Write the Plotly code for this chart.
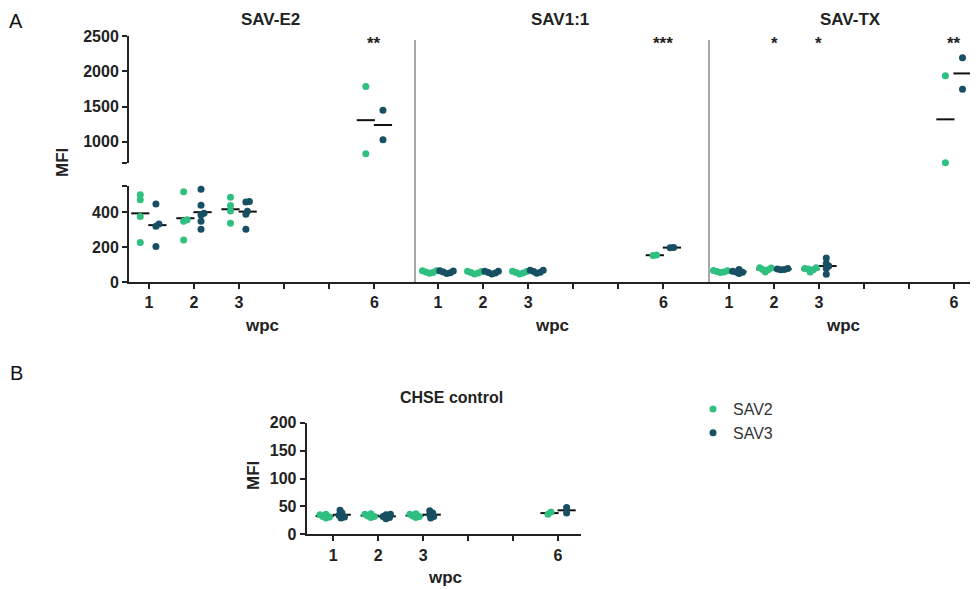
import plotly.graph_objects as go

W, H = 978, 589
OFF = 8                     # browser body margin compensation
FW, FH = W - OFF, H - OFF   # figure size

# ---------------- data ----------------
wpc = [1, 2, 3, 6]
x_tickvals = [1, 2, 3, 4, 5, 6]
x_ticktext = ['1', '2', '3', '', '', '6']
series_names = ['SAV2', 'SAV3']
panel_titles = ['SAV-E2', 'SAV1:1', 'SAV-TX']

# SAV-E2
e2_sav2 = [[471, 500, 375, 227], [517, 356, 348, 240], [486, 438, 407, 336], [1784, 830]]
e2_sav3 = [[447, 332, 320, 204], [532, 440, 394, 384, 348, 302], [459, 461, 406, 388, 302], [1449, 1028]]
# SAV1:1
s11_sav2 = [[50, 58, 64, 65, 55], [46, 54, 60, 61, 52], [46, 54, 60, 61, 52], [152, 155]]
s11_sav3 = [[48, 57, 63, 64, 53], [46, 55, 61, 62, 51], [50, 60, 67, 68, 56], [196, 198]]
# SAV-TX
tx_sav2 = [[54, 60, 66, 64, 58], [58, 70, 80, 82, 72], [58, 70, 78, 82, 74], [1935, 703]]
tx_sav3 = [[48, 56, 62, 72, 58], [70, 72, 75, 77], [138, 106, 92, 77, 44], [2193, 1746]]
# CHSE control
chse_sav2 = [[29, 32, 35, 36, 31], [30, 33, 36, 37, 32], [30, 33, 36, 37, 32], [36, 40]]
chse_sav3 = [[29, 31, 34, 38, 43], [28, 32, 35, 36, 30], [29, 32, 35, 38, 42], [38, 48]]

# significance marks
sig_e2 = ['', '', '', '**']
sig_s11 = ['', '', '', '***']
sig_tx = ['', '*', '*', '**']

# ---------------- style ----------------
COL = {'SAV2': '#2fbf80', 'SAV3': '#174f63'}
FONT = 'Liberation Sans, Arial, sans-serif'
INK = '#222222'
LOW_MAX, UP_MIN = 550, 700
PPU_X = 45.1
PPU = {'y': 96 / 550, 'y2': 127 / 1800, 'y3': 111.7 / 200}
SIDE = {'SAV2': -0.19, 'SAV3': 0.19}


def X(px):
    return (px - OFF) / FW


def Y(py):
    return 1 - (py - OFF) / FH


def swarm(vals, ppu_y, diam=3.4):
    placed, offs = [], [0.0] * len(vals)
    for i in sorted(range(len(vals)), key=lambda k: vals[k]):
        yv = vals[i] * ppu_y
        cand = 0.0
        for k in range(80):
            cand = 0.0 if k == 0 else ((k + 1) // 2) * (1 if k % 2 else -1) * 0.5
            if all((cand - a) ** 2 + (yv - b) ** 2 >= diam ** 2 for a, b in placed):
                break
        placed.append((cand, yv))
        offs[i] = cand
    if placed:
        c = (max(p[0] for p in placed) + min(p[0] for p in placed)) / 2
        offs = [o - c for o in offs]
    return [o / PPU_X for o in offs]


fig = go.Figure()
acc = {}
means = {}


def add(xa, groups, name, split=True, ya_low='y'):
    for w, vals in zip(wpc, groups):
        segs = {}
        for v in vals:
            ya = ya_low if (not split or v <= LOW_MAX) else 'y2'
            segs.setdefault(ya, []).append(v)
        for ya, vs in segs.items():
            offs = swarm(vs, PPU[ya])
            key = (xa, ya, name)
            acc.setdefault(key, ([], []))
            for v, o in zip(vs, offs):
                acc[key][0].append(w + SIDE[name] + o)
                acc[key][1].append(v)
        m = sum(vals) / len(vals)
        ya = ya_low if (not split or m <= LOW_MAX) else 'y2'
        means.setdefault((xa, ya), ([], []))
        means[(xa, ya)][0].append(w + SIDE[name])
        means[(xa, ya)][1].append(m)


add('x', e2_sav2, 'SAV2'); add('x', e2_sav3, 'SAV3')
add('x2', s11_sav2, 'SAV2'); add('x2', s11_sav3, 'SAV3')
add('x3', tx_sav2, 'SAV2'); add('x3', tx_sav3, 'SAV3')
add('x4', chse_sav2, 'SAV2', split=False, ya_low='y3')
add('x4', chse_sav3, 'SAV3', split=False, ya_low='y3')

# mean lines first (behind the dots)
for (xa, ya), (xs, ys) in means.items():
    fig.add_trace(go.Scatter(
        x=xs, y=ys, xaxis=xa, yaxis=ya, mode='markers', showlegend=False,
        marker=dict(symbol='line-ew', size=13, line=dict(width=2, color='#111111')),
        cliponaxis=False, hoverinfo='y'))

shown = set()
for (xa, ya, name), (xs, ys) in acc.items():
    fig.add_trace(go.Scatter(
        x=xs, y=ys, xaxis=xa, yaxis=ya, mode='markers', name=name,
        showlegend=name not in shown,
        marker=dict(color=COL[name], size=7, line=dict(width=0)),
        cliponaxis=False, hoverinfo='x+y'))
    shown.add(name)

axis_common = dict(showgrid=False, zeroline=False, showline=True, linecolor=INK,
                   linewidth=2, ticks='outside', ticklen=5, tickwidth=2, tickcolor=INK,
                   tickfont=dict(family=FONT, size=16, color=INK, weight='bold'),
                   fixedrange=True, automargin=False)
xcommon = dict(axis_common, tickvals=x_tickvals, ticktext=x_ticktext)

fig.update_layout(
    width=FW, height=FH, margin=dict(l=0, r=0, t=0, b=0, pad=0),
    paper_bgcolor='white', plot_bgcolor='white',
    xaxis=dict(xcommon, domain=[X(129), X(415)], range=[0.56, 6.9], anchor='y'),
    xaxis2=dict(xcommon, domain=[X(415), X(708)], range=[0.49, 6.99], anchor='y'),
    xaxis3=dict(xcommon, domain=[X(708), X(976)], range=[0.533, 6.49], anchor='y'),
    xaxis4=dict(xcommon, domain=[X(306.7), X(581)], range=[0.41, 6.51], anchor='y3'),
    yaxis=dict(axis_common, domain=[Y(282), Y(186)], range=[0, LOW_MAX], anchor='x',
               tickvals=[0, 200, 400, 550], ticktext=['0', '200', '400', '']),
    yaxis2=dict(axis_common, domain=[Y(163), Y(36)], range=[UP_MIN, 2500], anchor='x',
                tickvals=[700, 1000, 1500, 2000, 2500], ticktext=['', '1000', '1500', '2000', '2500']),
    yaxis3=dict(axis_common, domain=[Y(534.3), Y(422.7)], range=[0, 200], anchor='x4',
                tickvals=[0, 50, 100, 150, 200]),
    legend=dict(x=X(693), y=Y(392), xanchor='left', yanchor='top', tracegroupgap=0,
                font=dict(family=FONT, size=16, color='#333333'),
                bgcolor='rgba(0,0,0,0)'),
    showlegend=True,
)

# divider lines between panel A subplots
for px in (415, 709):
    fig.add_shape(type='line', xref='paper', yref='paper', x0=X(px), x1=X(px),
                  y0=Y(282), y1=Y(40), line=dict(color='#a8a8a8', width=2))

ann = []


def text(px, py, s, size=16, bold=True, angle=0, color=INK, yanchor='middle'):
    ann.append(dict(x=X(px), y=Y(py), xref='paper', yref='paper', text=s, showarrow=False,
                    textangle=angle, xanchor='center', yanchor=yanchor,
                    font=dict(family=FONT, size=size, color=color,
                              weight='bold' if bold else 'normal')))


for s, px in zip(panel_titles, (270, 560, 850)):
    text(px, 8, s, size=17, yanchor='top')
for px in (262, 552, 843):
    text(px, 325, 'wpc', size=17)
text(445, 577, 'wpc', size=17)
text(62, 163, 'MFI', size=17, angle=-90)
text(253, 476, 'MFI', size=17, angle=-90)
text(451, 397, 'CHSE control', size=16)
text(16, 8, 'A', size=20, bold=False, color='#111111', yanchor='top')
text(16, 373, 'B', size=20, bold=False, color='#111111')

for xa, sig in (('x', sig_e2), ('x2', sig_s11), ('x3', sig_tx)):
    for w, s in zip(wpc, sig):
        if s:
            ann.append(dict(x=w, y=Y(44), xref=xa, yref='paper', text=s, showarrow=False,
                            xanchor='center', yanchor='middle',
                            font=dict(family=FONT, size=17, color=INK, weight='bold')))

fig.update_layout(annotations=ann)
fig.write_html('out.html')
